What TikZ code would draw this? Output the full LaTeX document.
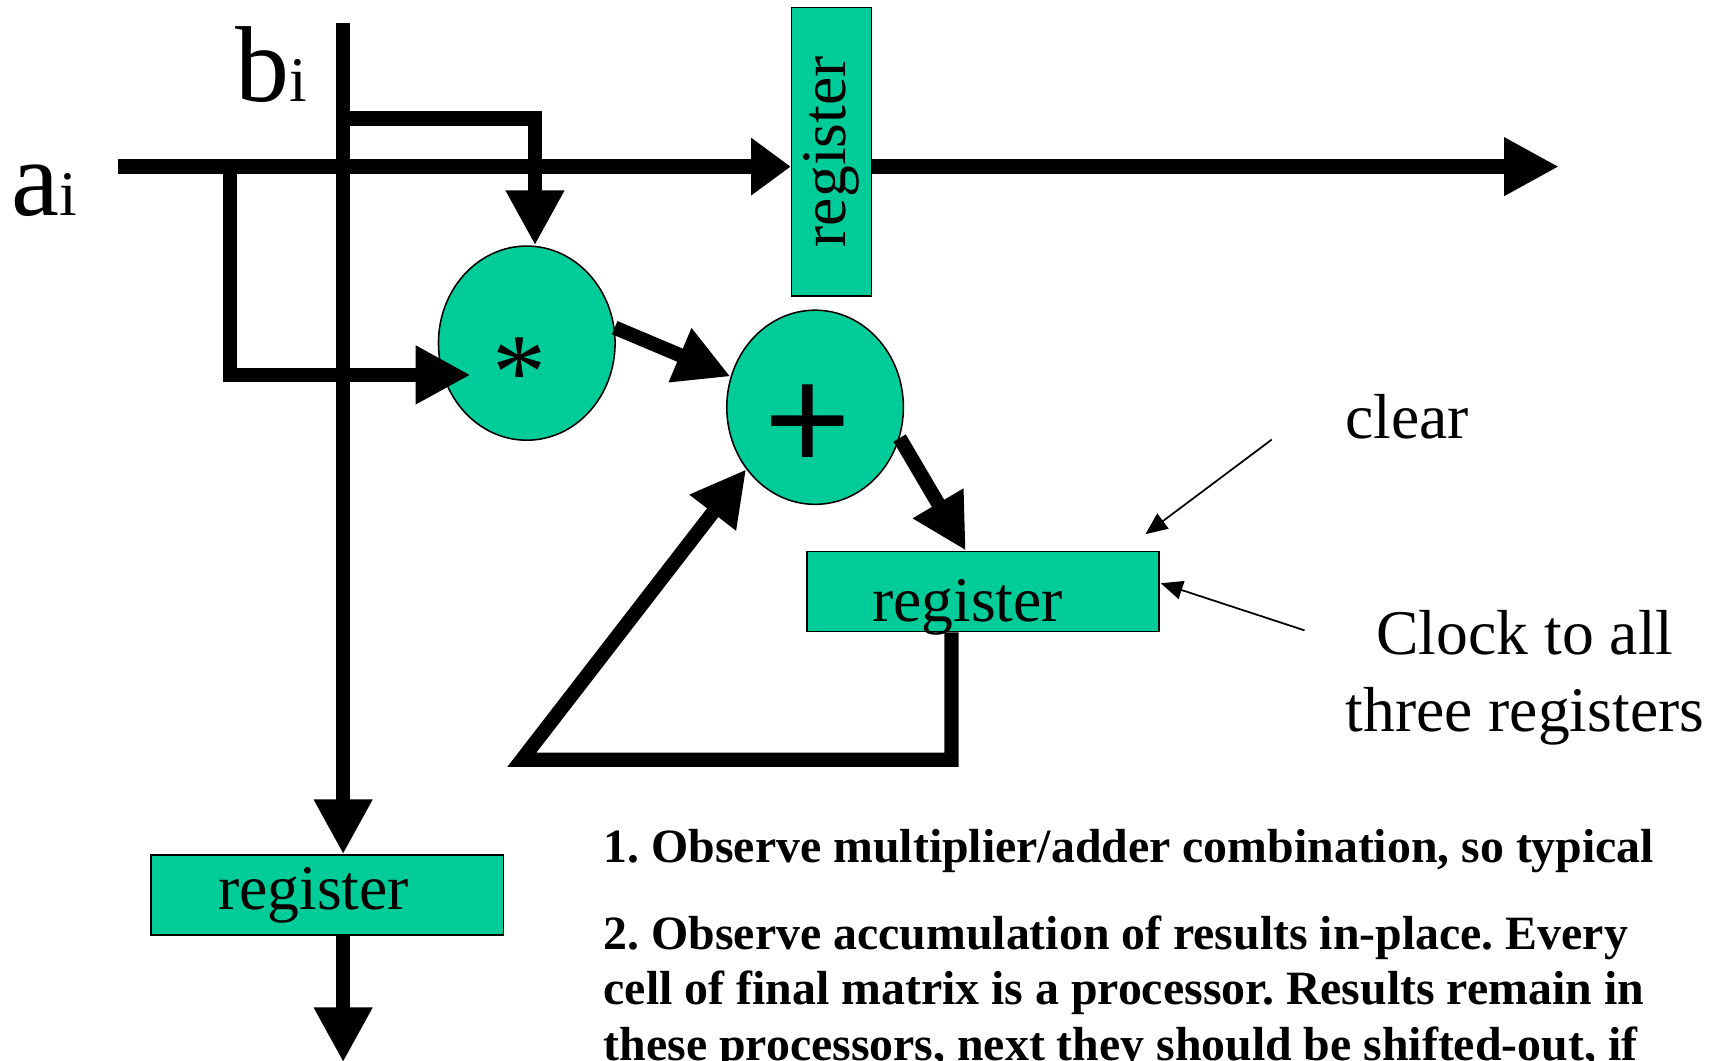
\documentclass[tikz,border=0pt]{standalone}
\usepackage{fontspec}
\setmainfont{Liberation Serif}
\newfontfamily\plusfont{Liberation Sans}
\usetikzlibrary{shapes.geometric,arrows.meta}
\definecolor{cellgreen}{RGB}{0,204,153}
\begin{document}
\begin{tikzpicture}[x=0.01cm,y=-0.01cm,
  unit/.style={draw=black,line width=0.4pt,fill=cellgreen,inner sep=0pt},
  regbox/.style={unit,rectangle,minimum width=3.21cm,minimum height=0.73cm,
    font=\fontsize{16.5pt}{18pt}\selectfont},
  opnode/.style={unit,ellipse,minimum width=1.61cm,minimum height=1.77cm},
  wire/.style={line width=0.13cm,line join=miter},
  bigarrow/.style={wire,-{Triangle[length=0.5cm,width=0.5cm]}},
  stubarrow/.style={wire,-{Triangle[length=0.36cm,width=0.5cm]}},
  thinarrow/.style={line width=0.45pt,-{Triangle[length=0.2cm,width=0.17cm]}},
  txt/.style={inner sep=0pt,font=\fontsize{16.5pt}{20.03pt}\selectfont},
  bigtxt/.style={inner sep=0pt,font=\fontsize{28pt}{30pt}\selectfont},
  note/.style={inner sep=0pt,align=left,font=\fontsize{12.4pt}{14.5pt}\selectfont\bfseries\frenchspacing}
]
\clip (0,0) rectangle (1568,967);

% processing elements
\node[opnode] (mul) at (480.5,313) {};
\node[bigtxt,anchor=base] (star) at (474,373) {*};
\node[opnode] (add) at (743.5,371.5) {};
\node[inner sep=0pt,anchor=base,font=\plusfont\fontsize{38.5pt}{40pt}\selectfont] (plus) at (737,429) {+};

% registers
\node[regbox,rotate=90,minimum width=2.63cm] (vreg) at (758.5,138.5) {register};
\node[regbox,text height=0.6cm,text depth=0.05cm] (mreg) at (896.5,539.5) {register\hspace*{0.28cm}};
\node[regbox] (breg) at (298.5,816.5) {register\hspace*{0.25cm}};

% wire end points and taps
\coordinate (ain) at (108,152);
\coordinate (aout) at (1422,152);
\coordinate (bin) at (313,21);
\coordinate (bout) at (313,969);
\coordinate (atap) at (210,152);
\coordinate (btap) at (313,108);
\coordinate (fbr) at (868,693);
\coordinate (fbl) at (476,693);
\coordinate (clr) at (1160,401);
\coordinate (clk) at (1190,575);

% a_i stream
\draw[stubarrow] (ain) -- (ain -| vreg.north);
\draw[bigarrow] (ain -| vreg.south) -- (aout);
% b_i stream
\draw[bigarrow] (bin) -- (bin |- breg.north);
\draw[bigarrow] (bin |- breg.south) -- (bout);
% operands into the multiplier
\draw[bigarrow] (btap) -| ([xshift=0.075cm]mul.north);
\draw[bigarrow] (atap) |- ([shift={(30,29)}]mul.west);
% multiply-accumulate
\draw[bigarrow] (mul.10) -- (add.160);
\draw[bigarrow] (add.-20) -- ([xshift=-0.155cm]mreg.north);
\draw[bigarrow] (mreg.south -| fbr) -- (fbr) -- (fbl) -- (add.-138);

% control inputs
\draw[thinarrow] (clr) -- ([shift={(-13,-15)}]mreg.north east);
\draw[thinarrow] (clk) -- ([shift={(1,-7.5)}]mreg.east);

% labels (the base anchor of a multi-line node sits on its last line)
\node[bigtxt,anchor=base west] (alabel) at (9.5,197) {a{\fontsize{16.5pt}{18pt}\selectfont i}};
\node[bigtxt,anchor=base west] (blabel) at (214,93) {b{\fontsize{16.5pt}{18pt}\selectfont i}};
\node[txt,anchor=base west] (clearlabel) at (1226.5,400) {clear};
\node[txt,align=center,anchor=base] (clocklabel) at (1391,667.4) {Clock to all\\three registers};
\node[note,anchor=base west] (note1) at (550,787) {1. Observe multiplier/adder combination, so typical};
\node[note,anchor=base west] (note2) at (550,967.7) {2. Observe accumulation of results in-place. Every\\cell of final matrix is a processor. Results remain in\\these processors, next they should be shifted-out, if};
\end{tikzpicture}
\end{document}
